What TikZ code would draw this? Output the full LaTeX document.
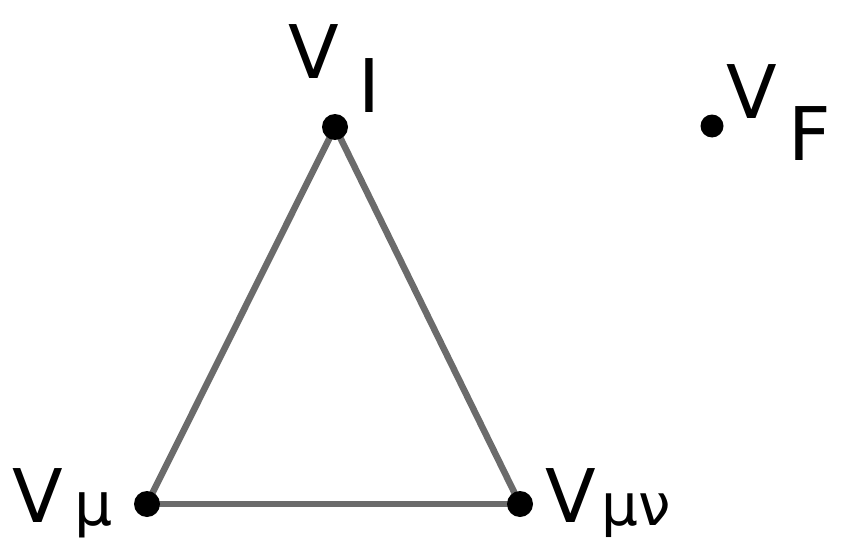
\documentclass[tikz,border=0pt]{standalone}
\usepackage{fontspec}
\setmainfont{DejaVu Sans}
\usepackage{tikz}
\usetikzlibrary{backgrounds}

\begin{document}
\begin{tikzpicture}[
            x=1pt,y=-1pt,
            vertex/.style={circle,fill=black,inner sep=0pt,minimum size=26pt},
            edge/.style={draw=black!58,line width=6.5pt},
            vlabel/.style={inner sep=0pt,anchor=base west,font=\fontsize{74}{80}\selectfont}
        ]
            \useasboundingbox (0,0) rectangle (847,554);

            \node[vertex] (vI) at (335,127) {};
            \node[vertex] (vmu) at (147,504) {};
            \node[vertex] (vmunu) at (520,504) {};
            \node[vertex, minimum size=23pt] (vF) at (712,126) {};

            \begin{scope}[on background layer]
                \draw[edge] (vI.center) -- (vmu.center);
                \draw[edge] (vI.center) -- (vmunu.center);
                \draw[edge] (vmu.center) -- (vmunu.center);
            \end{scope}

            \node[vlabel] (lI) at (288,78) {V\hspace{20pt}\raisebox{-34pt}{I}};
            \node[vlabel] (lF) at (726,118) {V\hspace{12pt}\raisebox{-42pt}{F}};
            \node[vlabel] (lmu) at (12,522) {V\hspace{12pt}\raisebox{-3pt}{\fontsize{60}{66}\selectfont μ}};
            \node[vlabel] (lmunu) at (545,522) {V\hspace{6pt}\raisebox{-3pt}{\fontsize{58}{64}\selectfont μν}};
        \end{tikzpicture}
\end{document}
